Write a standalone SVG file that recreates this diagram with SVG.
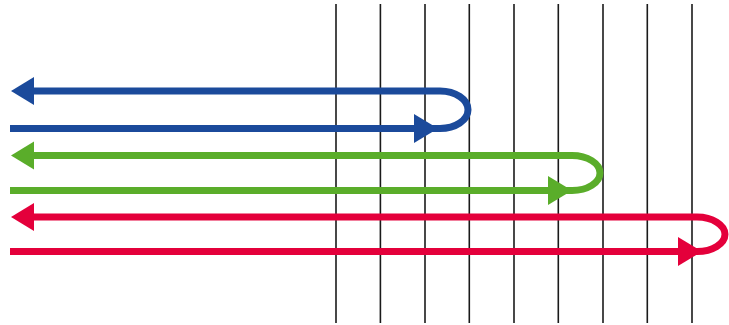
<svg xmlns="http://www.w3.org/2000/svg" width="729" height="325" viewBox="0 0 729 325">
<style>
.grid line{stroke:#1a1a1a;stroke-width:1.6}
.u{fill:none;stroke-width:7}
.blue{stroke:#1b4a9b}
.green{stroke:#5aad2a}
.red{stroke:#e4003b}
</style>
<rect width="729" height="325" fill="#ffffff"/>
<g id="grid" class="grid">
<line x1="336" y1="4" x2="336" y2="323"/>
<line x1="380.4" y1="4" x2="380.4" y2="323"/>
<line x1="425" y1="4" x2="425" y2="323"/>
<line x1="469.3" y1="4" x2="469.3" y2="323"/>
<line x1="514" y1="4" x2="514" y2="323"/>
<line x1="558.3" y1="4" x2="558.3" y2="323"/>
<line x1="603" y1="4" x2="603" y2="323"/>
<line x1="647.3" y1="4" x2="647.3" y2="323"/>
<line x1="692" y1="4" x2="692" y2="323"/>
</g>
<g id="connectors">
<g id="blue-arrow">
<path class="u blue" d="M10 128.5 H440 A28 18.75 0 0 0 440 91 H30"/>
<polygon fill="#1b4a9b" points="11,91 34,77 34,105"/>
<polygon fill="#1b4a9b" points="414,114 438,128.5 414,143"/>
</g>
<g id="green-arrow">
<path class="u green" d="M10 190.5 H572 A28 17.5 0 0 0 572 155.5 H30"/>
<polygon fill="#5aad2a" points="11,155.5 34,141.5 34,169.5"/>
<polygon fill="#5aad2a" points="548,176 572,190.5 548,205"/>
</g>
<g id="red-arrow">
<path class="u red" d="M10 251.5 H697 A28 17.2 0 0 0 697 217.1 H30"/>
<polygon fill="#e4003b" points="11,217.1 34,203.1 34,231.1"/>
<polygon fill="#e4003b" points="678,237 702,251.5 678,266"/>
</g>
</g>
</svg>
